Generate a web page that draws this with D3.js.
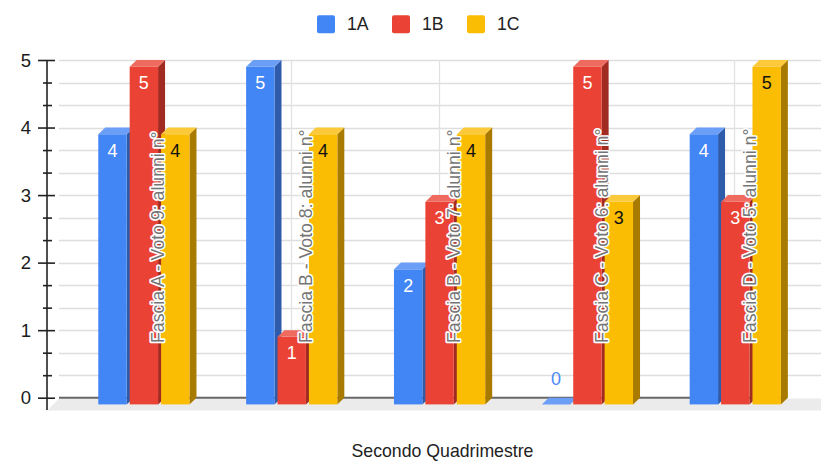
<!DOCTYPE html>
<html>
<head>
<meta charset="utf-8">
<script src="https://cdn.jsdelivr.net/npm/d3@7"></script>
<style>
  html, body { margin: 0; padding: 0; background: #fff; }
  svg { display: block; font-family: "Liberation Sans", Arial, sans-serif; }
</style>
</head>
<body>
<svg id="chart" width="821" height="461"></svg>
<script>
// ---- data ----
const categories = [
  "Fascia A - Voto 9: alunni n°",
  "Fascia B - Voto 8: alunni n°",
  "Fascia B - Voto 7: alunni n°",
  "Fascia C - Voto 6: alunni n°",
  "Fascia D - Voto 5: alunni n°"
];
const seriesNames = ["1A", "1B", "1C"];
const values1A = [4, 5, 2, 0, 4];
const values1B = [5, 1, 3, 5, 3];
const values1C = [4, 4, 4, 3, 5];
const yTicks = [0, 1, 2, 3, 4, 5];
const xTitle = "Secondo Quadrimestre";

// ---- styles ----
const front = ["#4285f4", "#ea4335", "#fbbc04"];
const topC  = ["#6a9ef7", "#ef6a5f", "#fcc93a"];
const sideC = ["#2e5cab", "#a22b21", "#a87b00"];
const labelC = ["#ffffff", "#ffffff", "#111111"];

const seriesValues = [values1A, values1B, values1C];
const svg = d3.select("#chart");

const y = d3.scaleLinear().domain([0, 5]).range([397.7, 60]);
const x = d3.scaleBand().domain(categories).range([69.95, 809.2]).padding(0);
const inner = d3.scaleBand().domain(seriesNames).range([-45.6, 45.6]).paddingInner(0.096);
const dx = 7, dy = 6.7;
const cx = c => x(c) + x.bandwidth() / 2;

// floor
svg.append("polygon")
  .attr("points", [[59, 398.5], [821, 398.5], [821, 410.5], [47.5, 410.5]].map(p => p.join(",")).join(" "))
  .attr("fill", "#ebebeb");

// horizontal gridlines (every 1/3)
const minorTicks = d3.range(0, 15.5).map(k => k / 3);
svg.append("g").selectAll("line").data(minorTicks.filter(v => v > 0)).join("line")
  .attr("x1", 59).attr("x2", 821)
  .attr("y1", d => Math.round(y(d)) + 0.5).attr("y2", d => Math.round(y(d)) + 0.5)
  .attr("stroke", "#dedede").attr("stroke-width", 1.3);

// vertical gridlines
svg.append("g").selectAll("line").data(categories).join("line")
  .attr("x1", d => Math.round(cx(d) - 1) + 0.5).attr("x2", d => Math.round(cx(d) - 1) + 0.5)
  .attr("y1", y(5)).attr("y2", y(0))
  .attr("stroke", "#e2e2e2").attr("stroke-width", 1.3);

// zero line
svg.append("line").attr("x1", 59).attr("x2", 787).attr("y1", y(0)).attr("y2", y(0))
  .attr("stroke", "#666").attr("stroke-width", 2);

// y axis
svg.append("line").attr("x1", 47).attr("x2", 47).attr("y1", y(5)).attr("y2", 410)
  .attr("stroke", "#222").attr("stroke-width", 1.6);
const minorAxis = svg.append("g").attr("transform", "translate(52,0)")
  .call(d3.axisLeft(y).tickValues(minorTicks.filter((v, i) => i % 3 !== 0)).tickSize(9).tickFormat(""));
minorAxis.select(".domain").remove();
minorAxis.selectAll("line").attr("stroke", "#222").attr("stroke-width", 1.6);
const majorAxis = svg.append("g").attr("transform", "translate(55,0)")
  .call(d3.axisLeft(y).tickValues(yTicks).tickSizeInner(17).tickSizeOuter(0).tickPadding(7).tickFormat(d3.format("d")));
majorAxis.select(".domain").remove();
majorAxis.selectAll("line").attr("stroke", "#222").attr("stroke-width", 1.6);
majorAxis.selectAll("text").attr("fill", "#1a1a1a").attr("font-size", 18.5)
  .attr("font-family", "Liberation Sans, Arial, sans-serif").attr("dy", "0.34em");

// bars
const barsG = svg.append("g");
const bw = inner.bandwidth();
categories.forEach((c, ci) => {
  seriesNames.forEach((s, si) => {
    const v = seriesValues[si][ci];
    const fx = cx(c) + inner(s);
    const fy = y(v) + dy;
    const fb = y(0) + dy;
    const g = barsG.append("g");
    if (v > 0) {
      g.append("polygon")
        .attr("points", [[fx + bw, fy], [fx + bw + dx, fy - dy], [fx + bw + dx, fb - dy], [fx + bw, fb]].map(p => p.join(",")).join(" "))
        .attr("fill", sideC[si]);
      g.append("rect").attr("x", fx).attr("y", fy).attr("width", bw).attr("height", fb - fy)
        .attr("fill", front[si]);
    }
    g.append("polygon")
      .attr("points", [[fx, fy], [fx + dx, fy - dy], [fx + bw + dx, fy - dy], [fx + bw, fy]].map(p => p.join(",")).join(" "))
      .attr("fill", topC[si]);
  });
});

// value labels
const valG = svg.append("g").attr("font-size", 18).attr("text-anchor", "middle");
categories.forEach((c, ci) => {
  seriesNames.forEach((s, si) => {
    const v = seriesValues[si][ci];
    const fx = cx(c) + inner(s);
    const fy = y(v) + dy;
    valG.append("text")
      .attr("x", fx + bw / 2)
      .attr("y", v > 0 ? fy + 22.5 : fy - 19.5)
      .attr("fill", v > 0 ? labelC[si] : "#4a8af4")
      .text(v);
  });
});

// category labels (rotated)
svg.append("g").selectAll("text").data(categories).join("text")
  .attr("transform", d => `translate(${cx(d) + 20.5},343) rotate(-90)`)
  .attr("font-size", 17.7)
  .attr("fill", "#757575")
  .attr("stroke", "#fff").attr("stroke-width", 3.2).attr("stroke-linejoin", "round")
  .attr("paint-order", "stroke")
  .text(d => d);

// legend
const legend = svg.append("g");
const legendX = [317, 392, 467];
seriesNames.forEach((s, i) => {
  legend.append("rect").attr("x", legendX[i]).attr("y", 15.2).attr("width", 18).attr("height", 18)
    .attr("rx", 2).attr("fill", front[i]);
  legend.append("text").attr("x", legendX[i] + 30).attr("y", 30)
    .attr("font-size", 17.7).attr("fill", "#222").text(s);
});

// x title
svg.append("text").attr("x", 442.5).attr("y", 457).attr("text-anchor", "middle")
  .attr("font-size", 17.7).attr("fill", "#222").text(xTitle);
</script>
</body>
</html>
